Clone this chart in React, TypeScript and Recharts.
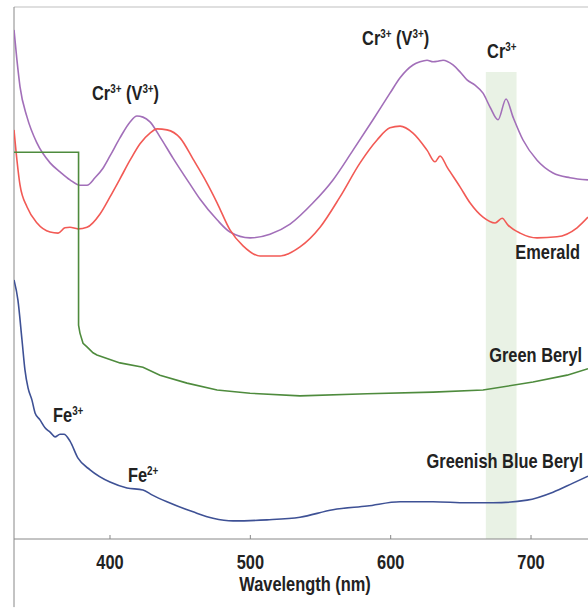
import { LineChart, Line, XAxis, YAxis, ReferenceArea, ReferenceLine, ReferenceDot } from "recharts";

// wavelength (nm) and relative absorbance (0-100)
const emeraldOWl = [331.6, 333.7, 335.9, 340.9, 348.0, 357.3, 364.4, 371.5, 378.6, 383.6, 389.3, 395.0, 400.0, 407.1, 414.3, 419.2, 423.5, 428.5, 435.6, 444.9, 457.0, 464.1, 476.3, 485.5, 499.8, 514.0, 528.3, 544.7, 558.9, 573.2, 587.4, 599.5, 606.7, 615.9, 620.9, 625.9, 630.2, 633.7, 637.3, 644.4, 649.4, 654.4, 660.1, 665.8, 670.8, 676.5, 682.2, 687.2, 694.3, 704.3, 715.7, 727.8, 740.6];
const emeraldOAbs = [95.7, 90.0, 85.0, 79.3, 74.4, 70.7, 69.0, 67.5, 66.5, 66.5, 67.9, 69.7, 72.0, 75.4, 78.4, 79.5, 79.3, 78.4, 75.6, 71.6, 66.7, 63.9, 60.0, 57.7, 56.6, 57.3, 59.2, 63.2, 67.5, 73.1, 78.8, 83.8, 86.7, 89.1, 89.7, 90.0, 89.7, 89.8, 90.0, 89.1, 87.8, 86.3, 85.3, 83.8, 81.2, 78.8, 82.7, 79.3, 75.0, 71.2, 68.8, 67.9, 67.5];

const emeraldEWl = [331.6, 333.7, 335.9, 340.9, 348.0, 357.3, 363.0, 367.9, 371.5, 377.2, 383.6, 392.9, 400.0, 407.1, 414.3, 421.4, 428.5, 433.5, 440.6, 449.9, 459.2, 469.1, 476.3, 485.5, 494.8, 506.9, 521.2, 535.4, 549.7, 563.9, 578.2, 590.3, 599.5, 606.7, 615.9, 625.9, 631.6, 635.2, 640.2, 649.4, 656.5, 665.8, 674.4, 679.4, 683.6, 692.2, 704.3, 718.5, 732.8, 740.6];
const emeraldEAbs = [76.9, 71.2, 66.5, 62.4, 59.4, 57.7, 57.5, 58.5, 58.6, 58.3, 58.6, 61.1, 64.3, 67.7, 71.2, 74.3, 76.3, 77.1, 76.9, 75.4, 71.4, 66.9, 63.2, 58.1, 55.1, 53.2, 53.2, 54.9, 58.6, 64.3, 70.7, 75.0, 77.3, 77.6, 76.3, 73.1, 70.9, 72.0, 69.9, 66.2, 63.2, 60.5, 59.4, 60.3, 59.0, 57.5, 56.6, 56.8, 58.5, 60.5];

const greenBerylWl = [331.6, 377.6, 377.6, 378.6, 380.8, 383.6, 387.9, 390.7, 407.1, 423.5, 435.6, 454.9, 476.3, 499.8, 535.4, 583.2, 630.2, 665.8, 701.4, 725.7, 740.6];
const greenBerylAbs = [72.7, 72.7, 40.2, 38.7, 36.8, 36.1, 35.0, 34.6, 33.1, 32.3, 30.8, 29.3, 28.0, 27.4, 26.9, 27.3, 27.6, 28.0, 29.5, 30.8, 32.0];

const blueBerylWl = [331.6, 334.4, 337.3, 339.4, 341.6, 344.4, 346.6, 350.1, 353.7, 357.3, 360.8, 364.4, 367.2, 371.5, 377.2, 385.8, 400.0, 412.1, 423.5, 429.9, 440.6, 459.2, 473.4, 487.7, 511.9, 535.4, 558.9, 583.2, 606.7, 630.2, 654.4, 673.0, 697.2, 715.7, 729.9, 740.6];
const blueBerylAbs = [48.7, 44.9, 37.4, 31.8, 28.4, 26.1, 23.7, 22.4, 20.9, 20.1, 19.2, 19.7, 19.7, 18.4, 15.2, 13.0, 10.7, 9.6, 9.2, 8.3, 7.0, 5.1, 3.9, 3.4, 3.6, 4.1, 5.5, 6.2, 7.0, 7.0, 6.8, 6.8, 7.3, 8.8, 10.5, 11.8];

const xTicks = [400, 500, 600, 700];

const toPoints = (wl: number[], abs: number[]) => wl.map((w, i) => ({ wl: w, a: abs[i] }));

const FONT = "'Liberation Sans', Arial, sans-serif";
const textStyle = { fontFamily: FONT, fontWeight: 700, fontSize: 20, fill: "#222" };

// bold text squeezed horizontally to look like a narrow face
function Narrow({ x, y, anchor = "start", children }: any) {
  return (
    <text transform={`translate(${x},${y}) scale(0.82,1)`} textAnchor={anchor} style={textStyle}>
      {children}
    </text>
  );
}

function Ion(props: any) {
  const { cx, cy, base, sup, base2, sup2, suffix, anchor } = props;
  return (
    <Narrow x={cx} y={cy} anchor={anchor}>
      {base}
      {sup && (
        <tspan dy={-7} fontSize={12}>
          {sup}
        </tspan>
      )}
      {base2 && <tspan dy={7}>{base2}</tspan>}
      {sup2 && (
        <tspan dy={-7} fontSize={12}>
          {sup2}
        </tspan>
      )}
      {suffix && <tspan dy={7}>{suffix}</tspan>}
    </Narrow>
  );
}

export default function App() {
  return (
    <div style={{ position: "absolute", left: 0, top: 0, background: "#fff" }}>
      <LineChart width={588} height={610} margin={{ top: 7, right: 0, bottom: 41, left: 14 }}>
        <XAxis
          dataKey="wl"
          type="number"
          domain={[331.6, 740.6]}
          allowDataOverflow
          ticks={xTicks}
          tickSize={-4}
          tickMargin={20}
          stroke="#888"
          tick={(p: any) => (
            <Narrow x={p.x} y={p.y + 14} anchor="middle">
              {p.payload.value}
            </Narrow>
          )}
          height={30}
          label={{
            content: (p: any) => {
              const vb = p.viewBox || { x: 14, y: 539, width: 574 };
              return (
                <Narrow x={vb.x + vb.width / 2 + 4} y={vb.y + 52} anchor="middle">
                  Wavelength (nm)
                </Narrow>
              );
            },
          }}
        />
        <YAxis hide type="number" domain={[0, 100]} allowDataOverflow />
        <ReferenceArea x1={667.8} x2={689.7} y1={0} y2={87.8} fill="#e9f2e5" fillOpacity={1} stroke="none" />
        <ReferenceLine y={100} stroke="#d4d4d4" strokeWidth={1.5} />
        <ReferenceLine
          segment={[{ x: 331.6, y: -12.8 }, { x: 331.6, y: 100 }]}
          stroke="#888"
          ifOverflow="visible"
        />
        <Line data={toPoints(emeraldOWl, emeraldOAbs)} dataKey="a" type="monotone" stroke="#a26fb9" strokeWidth={1.6} dot={false} isAnimationActive={false} />
        <Line data={toPoints(emeraldEWl, emeraldEAbs)} dataKey="a" type="monotone" stroke="#f25a55" strokeWidth={1.6} dot={false} isAnimationActive={false} />
        <Line data={toPoints(greenBerylWl, greenBerylAbs)} dataKey="a" type="linear" stroke="#4e8b3d" strokeWidth={1.6} dot={false} isAnimationActive={false} />
        <Line data={toPoints(blueBerylWl, blueBerylAbs)} dataKey="a" type="monotone" stroke="#3e5195" strokeWidth={1.6} dot={false} isAnimationActive={false} />
        <ReferenceDot x={387.2} y={82.5} r={0} shape={(p: any) => <Ion {...p} base="Cr" sup="3+" base2=" (V" sup2="3+" suffix=")" />} />
        <ReferenceDot x={579.6} y={92.9} r={0} shape={(p: any) => <Ion {...p} base="Cr" sup="3+" base2=" (V" sup2="3+" suffix=")" />} />
        <ReferenceDot x={668.7} y={90.4} r={0} shape={(p: any) => <Ion {...p} base="Cr" sup="3+" />} />
        <ReferenceDot x={359.4} y={22.0} r={0} shape={(p: any) => <Ion {...p} base="Fe" sup="3+" />} />
        <ReferenceDot x={412.8} y={10.7} r={0} shape={(p: any) => <Ion {...p} base="Fe" sup="2+" />} />
        <ReferenceDot x={734.9} y={52.6} r={0} shape={(p: any) => <Ion {...p} base="Emerald" anchor="end" />} />
        <ReferenceDot x={736.4} y={33.3} r={0} shape={(p: any) => <Ion {...p} base="Green Beryl" anchor="end" />} />
        <ReferenceDot x={737.1} y={13.3} r={0} shape={(p: any) => <Ion {...p} base="Greenish Blue Beryl" anchor="end" />} />
      </LineChart>
    </div>
  );
}
